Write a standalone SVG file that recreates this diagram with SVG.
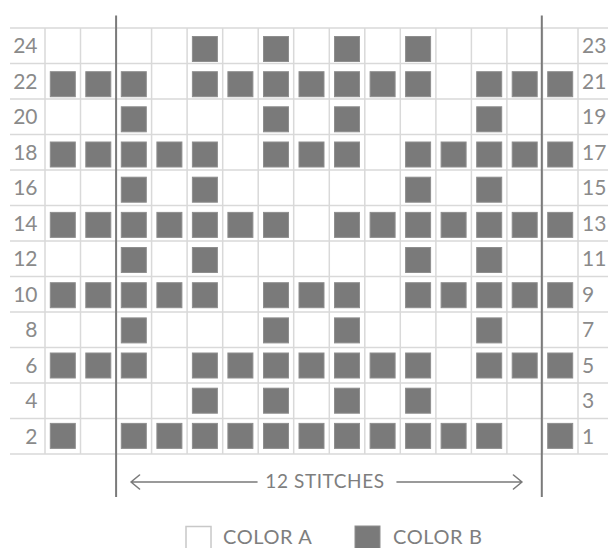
<svg xmlns="http://www.w3.org/2000/svg" xmlns:xlink="http://www.w3.org/1999/xlink" width="608" height="548" viewBox="0 0 608 548">
<style>
.grid{stroke:#d9d9d9;stroke-width:1.5;fill:none}
.rep{stroke:#7a7a7a;stroke-width:2;fill:none}
.b{fill:#7a7a7a;stroke:#8e8e8e;stroke-width:1}
.lbl{font-family:Lato,"Open Sans",sans-serif;font-size:21px;fill:#8a8a8a}
.l{text-anchor:end}
.cap{font-family:Lato,"Open Sans",sans-serif;fill:#7e7e7e;letter-spacing:0.6px}
.arr{stroke:#7a7a7a;stroke-width:1.6;fill:none;stroke-linecap:round;stroke-linejoin:round}
</style>
<defs>
<rect id="b" width="25" height="25" class="b"/>
</defs>
<rect width="608" height="548" fill="#fff"/>
<g id="grid">
<path class="grid" d="M10 28H608M10 63.5H608M10 99H608M10 134.5H608M10 170H608M10 205.5H608M10 241H608M10 276.5H608M10 312H608M10 347.5H608M10 383H608M10 418.5H608M10 454H608"/>
<path class="grid" d="M45 28V454M80.5 28V454M116.1 28V454M151.6 28V454M187.1 28V454M222.7 28V454M258.2 28V454M293.7 28V454M329.3 28V454M364.8 28V454M400.3 28V454M435.9 28V454M471.4 28V454M506.9 28V454M542.5 28V454M578 28V454"/>
</g>
<g id="labels-left" class="lbl l">
<text x="37.5" y="53.3">24</text>
<text x="37.5" y="88.8">22</text>
<text x="37.5" y="124.3">20</text>
<text x="37.5" y="159.8">18</text>
<text x="37.5" y="195.3">16</text>
<text x="37.5" y="230.8">14</text>
<text x="37.5" y="266.3">12</text>
<text x="37.5" y="301.8">10</text>
<text x="37.5" y="337.3">8</text>
<text x="37.5" y="372.8">6</text>
<text x="37.5" y="408.3">4</text>
<text x="37.5" y="443.8">2</text>
</g>
<g id="labels-right" class="lbl">
<text x="582" y="53.3">23</text>
<text x="582" y="88.8">21</text>
<text x="582" y="124.3">19</text>
<text x="582" y="159.8">17</text>
<text x="582" y="195.3">15</text>
<text x="582" y="230.8">13</text>
<text x="582" y="266.3">11</text>
<text x="582" y="301.8">9</text>
<text x="582" y="337.3">7</text>
<text x="582" y="372.8">5</text>
<text x="582" y="408.3">3</text>
<text x="582" y="443.8">1</text>
</g>
<g id="row-24">
<use href="#b" x="192.4" y="36.5"/><use href="#b" x="263.5" y="36.5"/><use href="#b" x="334.5" y="36.5"/><use href="#b" x="405.6" y="36.5"/>
</g>
<g id="row-22">
<use href="#b" x="50.3" y="71.7"/><use href="#b" x="85.8" y="71.7"/><use href="#b" x="121.3" y="71.7"/><use href="#b" x="192.4" y="71.7"/><use href="#b" x="227.9" y="71.7"/><use href="#b" x="263.5" y="71.7"/><use href="#b" x="299" y="71.7"/><use href="#b" x="334.5" y="71.7"/><use href="#b" x="370.1" y="71.7"/><use href="#b" x="405.6" y="71.7"/><use href="#b" x="476.7" y="71.7"/><use href="#b" x="512.2" y="71.7"/><use href="#b" x="547.7" y="71.7"/>
</g>
<g id="row-20">
<use href="#b" x="121.3" y="106.8"/><use href="#b" x="263.5" y="106.8"/><use href="#b" x="334.5" y="106.8"/><use href="#b" x="476.7" y="106.8"/>
</g>
<g id="row-18">
<use href="#b" x="50.3" y="142"/><use href="#b" x="85.8" y="142"/><use href="#b" x="121.3" y="142"/><use href="#b" x="156.9" y="142"/><use href="#b" x="192.4" y="142"/><use href="#b" x="263.5" y="142"/><use href="#b" x="299" y="142"/><use href="#b" x="334.5" y="142"/><use href="#b" x="405.6" y="142"/><use href="#b" x="441.1" y="142"/><use href="#b" x="476.7" y="142"/><use href="#b" x="512.2" y="142"/><use href="#b" x="547.7" y="142"/>
</g>
<g id="row-16">
<use href="#b" x="121.3" y="177.2"/><use href="#b" x="192.4" y="177.2"/><use href="#b" x="405.6" y="177.2"/><use href="#b" x="476.7" y="177.2"/>
</g>
<g id="row-14">
<use href="#b" x="50.3" y="212.4"/><use href="#b" x="85.8" y="212.4"/><use href="#b" x="121.3" y="212.4"/><use href="#b" x="156.9" y="212.4"/><use href="#b" x="192.4" y="212.4"/><use href="#b" x="227.9" y="212.4"/><use href="#b" x="263.5" y="212.4"/><use href="#b" x="334.5" y="212.4"/><use href="#b" x="370.1" y="212.4"/><use href="#b" x="405.6" y="212.4"/><use href="#b" x="441.1" y="212.4"/><use href="#b" x="476.7" y="212.4"/><use href="#b" x="512.2" y="212.4"/><use href="#b" x="547.7" y="212.4"/>
</g>
<g id="row-12">
<use href="#b" x="121.3" y="247.5"/><use href="#b" x="192.4" y="247.5"/><use href="#b" x="405.6" y="247.5"/><use href="#b" x="476.7" y="247.5"/>
</g>
<g id="row-10">
<use href="#b" x="50.3" y="282.7"/><use href="#b" x="85.8" y="282.7"/><use href="#b" x="121.3" y="282.7"/><use href="#b" x="156.9" y="282.7"/><use href="#b" x="192.4" y="282.7"/><use href="#b" x="263.5" y="282.7"/><use href="#b" x="299" y="282.7"/><use href="#b" x="334.5" y="282.7"/><use href="#b" x="405.6" y="282.7"/><use href="#b" x="441.1" y="282.7"/><use href="#b" x="476.7" y="282.7"/><use href="#b" x="512.2" y="282.7"/><use href="#b" x="547.7" y="282.7"/>
</g>
<g id="row-8">
<use href="#b" x="121.3" y="317.9"/><use href="#b" x="263.5" y="317.9"/><use href="#b" x="334.5" y="317.9"/><use href="#b" x="476.7" y="317.9"/>
</g>
<g id="row-6">
<use href="#b" x="50.3" y="353"/><use href="#b" x="85.8" y="353"/><use href="#b" x="121.3" y="353"/><use href="#b" x="192.4" y="353"/><use href="#b" x="227.9" y="353"/><use href="#b" x="263.5" y="353"/><use href="#b" x="299" y="353"/><use href="#b" x="334.5" y="353"/><use href="#b" x="370.1" y="353"/><use href="#b" x="405.6" y="353"/><use href="#b" x="476.7" y="353"/><use href="#b" x="512.2" y="353"/><use href="#b" x="547.7" y="353"/>
</g>
<g id="row-4">
<use href="#b" x="192.4" y="388.2"/><use href="#b" x="263.5" y="388.2"/><use href="#b" x="334.5" y="388.2"/><use href="#b" x="405.6" y="388.2"/>
</g>
<g id="row-2">
<use href="#b" x="50.3" y="423.4"/><use href="#b" x="121.3" y="423.4"/><use href="#b" x="156.9" y="423.4"/><use href="#b" x="192.4" y="423.4"/><use href="#b" x="227.9" y="423.4"/><use href="#b" x="263.5" y="423.4"/><use href="#b" x="299" y="423.4"/><use href="#b" x="334.5" y="423.4"/><use href="#b" x="370.1" y="423.4"/><use href="#b" x="405.6" y="423.4"/><use href="#b" x="441.1" y="423.4"/><use href="#b" x="476.7" y="423.4"/><use href="#b" x="547.7" y="423.4"/>
</g>
<g id="repeat-lines">
<path class="rep" d="M116.1 15.5V497M541.8 15.5V497"/>
</g>
<g id="connectors">
<path class="arr" d="M131 482H257M139.5 475L131 482L139.5 489"/>
<path class="arr" d="M397 482H522M513.5 475L522 482L513.5 489"/>
</g>
<g id="stitches-label">
<text class="cap" x="325" y="487.5" font-size="19" text-anchor="middle">12 STITCHES</text>
</g>
<g id="legend-a">
<rect x="186" y="526.5" width="25" height="26" fill="#fff" stroke="#c8c8c8" stroke-width="1.5"/>
<text class="cap" x="223" y="544" font-size="20">COLOR A</text>
</g>
<g id="legend-b">
<rect x="355" y="526" width="25" height="26" class="b"/>
<text class="cap" x="393" y="544" font-size="20">COLOR B</text>
</g>
</svg>
